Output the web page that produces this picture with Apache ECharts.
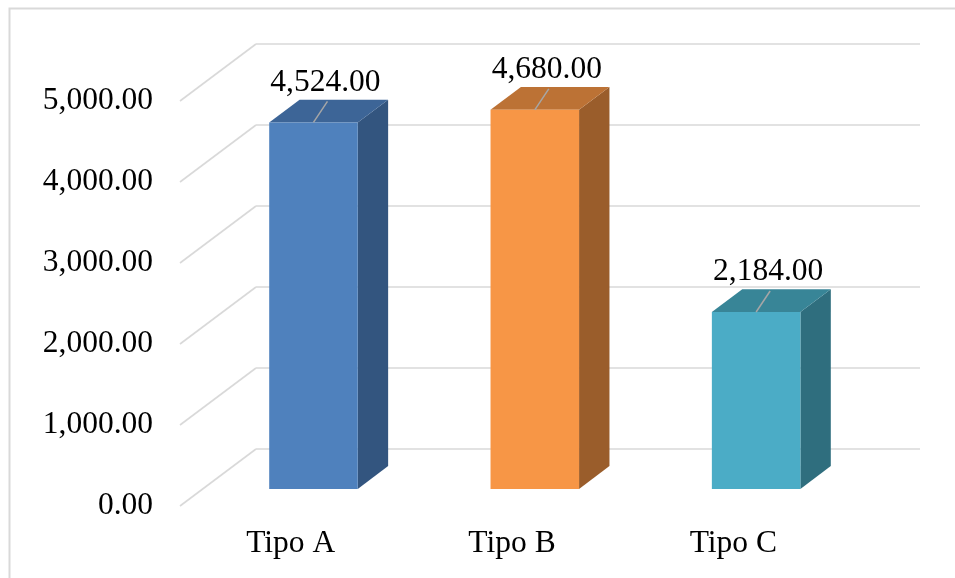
<!DOCTYPE html>
<html>
<head>
<meta charset="utf-8">
<script src="https://cdn.jsdelivr.net/npm/echarts@6/dist/echarts.min.js"></script>
<style>
  html, body { margin: 0; padding: 0; background: #fff; }
  #main { width: 955px; height: 578px; }
</style>
</head>
<body>
<div id="main"></div>
<script>
// datos del gráfico
var categorias = ['Tipo A', 'Tipo B', 'Tipo C'];
var valores = [4524, 4680, 2184];
var ticks = [0, 1000, 2000, 3000, 4000, 5000];

// colores por barra: frente, arriba, lado
var frente = ['#4F81BD', '#F79646', '#4BACC6'];
var arriba = ['#3D6597', '#BC7235', '#388597'];
var lado = ['#33557F', '#9A5D2B', '#2F6E7E'];

var FONT = "'Liberation Serif', 'Times New Roman', serif";
var FS = 31.5;
var DX = 76, DY = -57;   // profundidad del piso 3D

function fmt(v) {
    return v.toLocaleString('en-US', { minimumFractionDigits: 2, maximumFractionDigits: 2 });
}

var myChart = echarts.init(document.getElementById('main'));

var option = {
    animation: false,
    backgroundColor: '#fff',
    grid: { left: 180, top: 101, width: 664, height: 405 },
    xAxis: {
        type: 'category',
        data: categorias,
        axisLine: { show: false },
        axisTick: { show: false },
        axisLabel: { margin: 22, fontSize: FS, fontFamily: FONT, color: '#000' }
    },
    yAxis: {
        type: 'value',
        min: 0,
        max: 5000,
        interval: 1000,
        axisLine: { show: false },
        axisTick: { show: false },
        splitLine: { show: false },
        axisLabel: { margin: 27, fontSize: FS, fontFamily: FONT, color: '#000', padding: [6, 0, 0, 0], formatter: fmt }
    },
    graphic: [{
        type: 'rect',
        left: 7, top: 6,
        shape: { width: 1400, height: 900 },
        style: { fill: 'none', stroke: '#d9d9d9', lineWidth: 2 },
        silent: true
    }],
    series: [
        {
            // paredes: lineas diagonales y horizontales del fondo
            type: 'custom',
            z: 1,
            silent: true,
            data: ticks.map(function (t) { return [0, t]; }),
            renderItem: function (params, api) {
                var cs = params.coordSys;
                var y = api.coord([0, api.value(1)])[1];
                var st = { stroke: '#d9d9d9', lineWidth: 1.6 };
                return {
                    type: 'group',
                    children: [
                        { type: 'line', shape: { x1: cs.x, y1: y, x2: cs.x + DX, y2: y + DY }, style: st },
                        { type: 'line', shape: { x1: cs.x + DX, y1: y + DY, x2: cs.x + cs.width + DX, y2: y + DY }, style: st }
                    ]
                };
            }
        },
        {
            // barras 3D
            type: 'custom',
            z: 2,
            data: valores.map(function (v, i) { return [i, v]; }),
            renderItem: function (params, api) {
                var i = api.value(0);
                var v = api.value(1);
                var p0 = api.coord([i, 0]);
                var p1 = api.coord([i, v]);
                var bw = api.size([1, 0])[0] * 0.4;
                var fx = 0.3 * DX, fy = 0.3 * DY;
                var bx = 0.7 * DX, by = 0.7 * DY;
                var xl = p0[0] + fx - bw / 2, xr = p0[0] + fx + bw / 2;
                var yt = p1[1] + fy, yb = p0[1] + fy;
                var ox = bx - fx, oy = by - fy;
                var cx = (xl + xr) / 2;
                return {
                    type: 'group',
                    children: [
                        { type: 'polygon', shape: { points: [[xr, yt], [xr + ox, yt + oy], [xr + ox, yb + oy], [xr, yb]] }, style: { fill: lado[i] } },
                        { type: 'polygon', shape: { points: [[xl, yt], [xl + ox, yt + oy], [xr + ox, yt + oy], [xr, yt]] }, style: { fill: arriba[i] } },
                        { type: 'rect', shape: { x: xl, y: yt, width: bw, height: yb - yt }, style: { fill: frente[i] } },
                        { type: 'line', shape: { x1: cx, y1: yt, x2: cx + 14, y2: yt - 21 }, style: { stroke: '#a6a6a6', lineWidth: 1.5 } },
                        { type: 'text', x: cx + 12, y: yt - 24, style: { text: fmt(v), font: FS + 'px ' + FONT, fill: '#000', align: 'center', verticalAlign: 'bottom' } }
                    ]
                };
            }
        }
    ]
};

myChart.setOption(option);
</script>
</body>
</html>
